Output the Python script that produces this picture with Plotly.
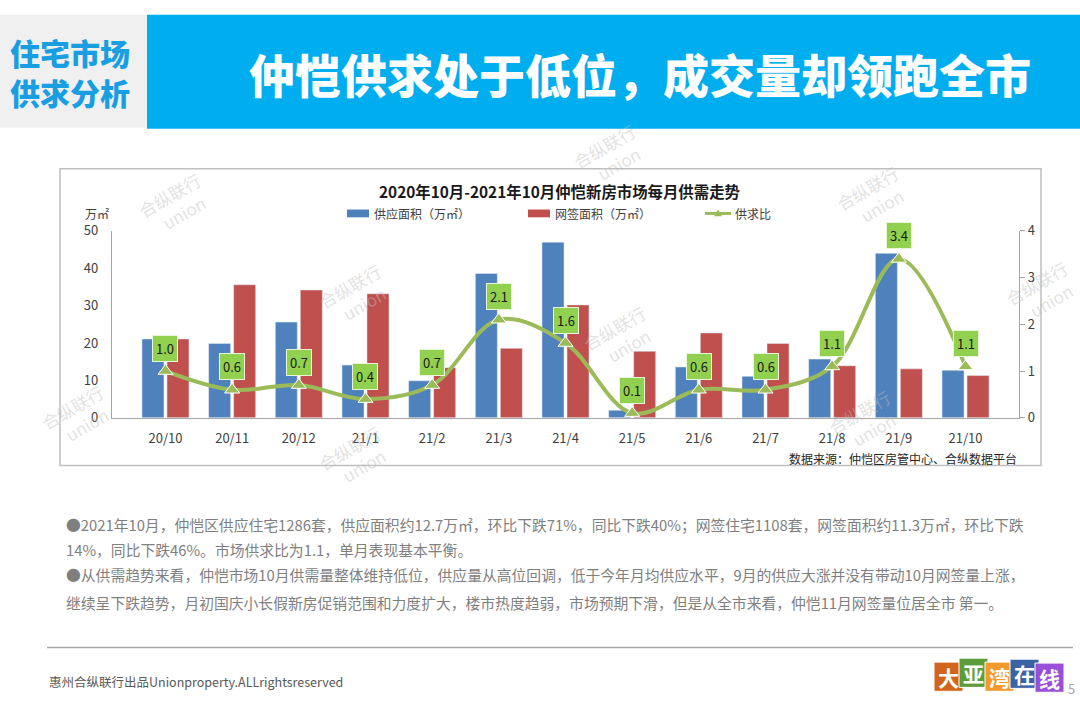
import plotly.graph_objects as go

# ---------------- data ----------------
months = ["20/10", "20/11", "20/12", "21/1", "21/2", "21/3", "21/4",
          "21/5", "21/6", "21/7", "21/8", "21/9", "21/10"]
supply = [21.1, 19.9, 25.6, 14.1, 9.9, 38.6, 47.0, 2.0, 13.6, 11.1, 15.7, 44.0, 12.7]
signed = [21.1, 35.6, 34.2, 33.2, 13.4, 18.6, 30.2, 17.8, 22.7, 19.9, 13.9, 13.1, 11.3]
ratio = [1.0, 0.6, 0.7, 0.4, 0.7, 2.1, 1.6, 0.1, 0.6, 0.6, 1.1, 3.4, 1.1]

left_ticks = [0, 10, 20, 30, 40, 50]
right_ticks = [0, 1, 2, 3, 4]

page_title = "仲恺供求处于低位，成交量却领跑全市"
side_title = ["住宅市场", "供求分析"]
chart_title = "2020年10月-2021年10月仲恺新房市场每月供需走势"
legend_names = ["供应面积（万㎡）", "网签面积（万㎡）", "供求比"]
source_note = "数据来源：仲恺区房管中心、合纵数据平台"
body_lines = [
    "●2021年10月，仲恺区供应住宅1286套，供应面积约12.7万㎡，环比下跌71%，同比下跌40%；网签住宅1108套，网签面积约11.3万㎡，环比下跌",
    "14%，同比下跌46%。市场供求比为1.1，单月表现基本平衡。",
    "●从供需趋势来看，仲恺市场10月供需量整体维持低位，供应量从高位回调，低于今年月均供应水平，9月的供应大涨并没有带动10月网签量上涨，",
    "继续呈下跌趋势，月初国庆小长假新房促销范围和力度扩大，楼市热度趋弱，市场预期下滑，但是从全市来看，仲恺11月网签量位居全市 第一。",
]
footer_text = "惠州合纵联行出品Unionproperty.ALLrightsreserved"
logo_chars = ["大", "亚", "湾", "在", "线"]
logo_colors = ["#D2651C", "#5E9E3A", "#F29A2E", "#3B62A3", "#9A4FD8"]

W, H = 1080, 711
def px(x): return x / W
def py(y): return 1 - y / H

FONT = "Noto Sans CJK SC"
BLUE = "#4F81BD"
RED = "#C0504D"
GREEN = "#9BBB59"

fig = go.Figure()
fig.add_trace(go.Bar(x=months, y=supply, name=legend_names[0], marker_color=BLUE,
                     yaxis="y", showlegend=False))
fig.add_trace(go.Bar(x=months, y=signed, name=legend_names[1], marker_color=RED,
                     yaxis="y", showlegend=False))
fig.add_trace(go.Scatter(x=months, y=ratio, name=legend_names[2], yaxis="y2",
                         mode="lines+markers", line=dict(color=GREEN, width=4, shape="spline", smoothing=1.0),
                         marker=dict(symbol="triangle-up", size=13, color=GREEN,
                                     line=dict(color="white", width=1)),
                         showlegend=False))

shapes = []
annotations = []

# header
shapes.append(dict(type="rect", xref="paper", yref="paper", x0=px(0), x1=px(147), y0=py(121), y1=py(5),
                   fillcolor="#F0F0F0", line=dict(width=0), layer="below"))
shapes.append(dict(type="rect", xref="paper", yref="paper", x0=px(147), x1=px(1080), y0=py(122), y1=py(5),
                   fillcolor="#00AEEF", line=dict(width=0), layer="below"))
for i, t in enumerate(side_title):
    annotations.append(dict(xref="paper", yref="paper", x=px(70), y=py(43 + i * 41), text=t,
                            showarrow=False, font=dict(family=FONT, size=30, color="#1A9EE2", weight=900),
                            xanchor="center", yanchor="middle"))
annotations.append(dict(xref="paper", yref="paper", x=px(640), y=py(65), text=page_title, showarrow=False,
                        font=dict(family=FONT, size=46, color="white", weight=900),
                        xanchor="center", yanchor="middle"))

# chart frame
shapes.append(dict(type="rect", xref="paper", yref="paper", x0=px(60), x1=px(1041), y0=py(468), y1=py(163),
                   fillcolor="rgba(0,0,0,0)", line=dict(color="#BFBFBF", width=1.5), layer="below"))

annotations.append(dict(xref="paper", yref="paper", x=px(559), y=py(186), text="<b>" + chart_title + "</b>",
                        showarrow=False, font=dict(family=FONT, size=15.4, color="#1a1a1a"),
                        xanchor="center", yanchor="middle"))

# custom legend
shapes.append(dict(type="rect", xref="paper", yref="paper", x0=px(347), x1=px(369), y0=py(213), y1=py(205),
                   fillcolor=BLUE, line=dict(width=0)))
annotations.append(dict(xref="paper", yref="paper", x=px(372), y=py(209), text=legend_names[0], showarrow=False,
                        font=dict(family=FONT, size=12, color="#404040"), xanchor="left", yanchor="middle"))
shapes.append(dict(type="rect", xref="paper", yref="paper", x0=px(528), x1=px(550), y0=py(213), y1=py(205),
                   fillcolor=RED, line=dict(width=0)))
annotations.append(dict(xref="paper", yref="paper", x=px(553), y=py(209), text=legend_names[1], showarrow=False,
                        font=dict(family=FONT, size=12, color="#404040"), xanchor="left", yanchor="middle"))
shapes.append(dict(type="line", xref="paper", yref="paper", x0=px(705), x1=px(731), y0=py(209), y1=py(209),
                   line=dict(color=GREEN, width=3)))
shapes.append(dict(type="path", xref="paper", yref="paper",
                   path=f"M {px(714)} {py(212)} L {px(722)} {py(212)} L {px(718)} {py(205)} Z",
                   fillcolor=GREEN, line=dict(width=0)))
annotations.append(dict(xref="paper", yref="paper", x=px(733), y=py(209), text=legend_names[2], showarrow=False,
                        font=dict(family=FONT, size=12, color="#404040"), xanchor="left", yanchor="middle"))

# unit label
annotations.append(dict(xref="paper", yref="paper", x=px(97), y=py(209), text="万㎡", showarrow=False,
                        font=dict(family=FONT, size=12, color="#404040"), xanchor="center", yanchor="middle"))

# ratio data labels
for m, r in zip(months, ratio):
    annotations.append(dict(x=m, y=r, xref="x", yref="y2", text=f"{r:.1f}", showarrow=False,
                            yshift=23, font=dict(family=FONT, size=13, color="#1a1a1a"),
                            bgcolor="#92D050", bordercolor="#E8F5D8", borderwidth=1, borderpad=3,
                            xanchor="center", yanchor="middle"))

# source note
annotations.append(dict(xref="paper", yref="paper", x=px(1019), y=py(461), text=source_note, showarrow=False,
                        font=dict(family=FONT, size=12, color="#262626"), xanchor="right", yanchor="middle"))

# watermarks
wm_pos = [(175, 200), (355, 293), (620, 337), (873, 193), (865, 423), (78, 418), (355, 460), (610, 150), (1042, 290)]
for (wx, wy) in wm_pos:
    annotations.append(dict(xref="paper", yref="paper", x=px(wx), y=py(wy),
                            text="合纵联行<br>  union", showarrow=False, textangle=-30,
                            font=dict(family=FONT, size=17, color="rgba(190,190,190,0.45)"),
                            xanchor="center", yanchor="middle"))

# body text
body_y = [529, 554, 580, 609]
for t, yy in zip(body_lines, body_y):
    annotations.append(dict(xref="paper", yref="paper", x=px(64), y=py(yy), text=t, showarrow=False,
                            font=dict(family=FONT, size=14.8, color="#7F7F7F"), xanchor="left", yanchor="middle"))

# footer
shapes.append(dict(type="line", xref="paper", yref="paper", x0=px(47), x1=px(1073), y0=py(655), y1=py(655),
                   line=dict(color="#A6A6A6", width=1.5)))
annotations.append(dict(xref="paper", yref="paper", x=px(47), y=py(690), text=footer_text, showarrow=False,
                        font=dict(family=FONT, size=12.5, color="#595959"), xanchor="left", yanchor="middle"))
annotations.append(dict(xref="paper", yref="paper", x=px(1071), y=py(697), text="5", showarrow=False,
                        font=dict(family=FONT, size=13, color="#A6A6A6"), xanchor="center", yanchor="middle"))
logo_x = [934, 959, 985, 1010, 1035]
logo_y = [685, 681, 685, 682, 686]
for ch, col, lx, ly in zip(logo_chars, logo_colors, logo_x, logo_y):
    shapes.append(dict(type="rect", xref="paper", yref="paper", x0=px(lx), x1=px(lx + 29),
                       y0=py(ly + 15), y1=py(ly - 15), fillcolor=col, line=dict(color="white", width=1)))
    annotations.append(dict(xref="paper", yref="paper", x=px(lx + 14.5), y=py(ly), text="<b>" + ch + "</b>",
                            showarrow=False, font=dict(family=FONT, size=21, color="white", weight=900),
                            xanchor="center", yanchor="middle"))

fig.update_layout(
    width=W, height=H,
    margin=dict(l=0, r=0, t=0, b=0),
    paper_bgcolor="white", plot_bgcolor="rgba(0,0,0,0)",
    barmode="group", bargap=0.25, bargroupgap=0.12,
    showlegend=False,
    font=dict(family=FONT, color="#404040"),
    xaxis=dict(domain=[px(112), px(1019)], showline=True, linecolor="#A6A6A6", linewidth=1.2,
               ticks="", tickfont=dict(size=13, color="#404040"), showgrid=False, zeroline=False,
               ticklabelstandoff=8),
    yaxis=dict(domain=[py(419), py(227)], range=[0, 50], tickvals=left_ticks, showgrid=False,
               showline=True, linecolor="#A6A6A6", linewidth=1.2, ticks="", zeroline=False,
               tickfont=dict(size=13, color="#404040"), ticklabelstandoff=10),
    yaxis2=dict(domain=[py(419), py(227)], range=[0, 4], tickvals=right_ticks, overlaying="y", side="right",
                showgrid=False, showline=True, linecolor="#A6A6A6", linewidth=1.2, ticks="outside",
                ticklen=5, tickcolor="#A6A6A6", zeroline=False, tickfont=dict(size=13, color="#404040"),
                anchor="x"),
    shapes=shapes, annotations=annotations,
)

fig.write_html("out.html", config={"displayModeBar": False},
               post_script="document.body.style.margin='0';document.body.style.overflow='hidden';")
